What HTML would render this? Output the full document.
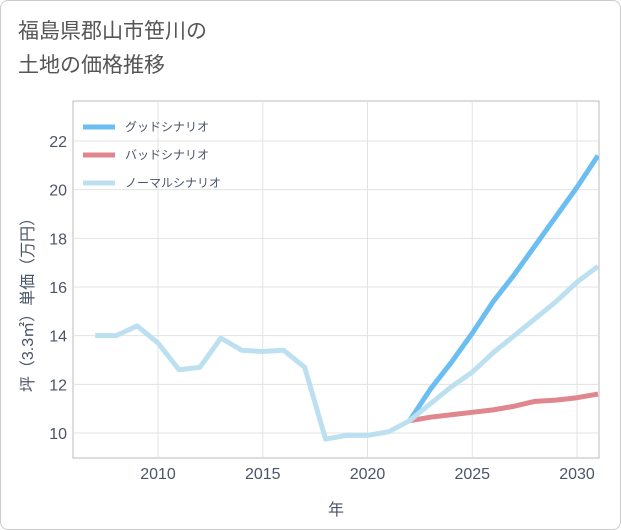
<!DOCTYPE html>
<html><head><meta charset="utf-8">
<style>
body{margin:0;background:#fff;}
#wrap{position:relative;width:619px;height:528px;border:1px solid #ccc;border-radius:8px;overflow:hidden;background:#fff;font-family:"Liberation Sans","Noto Sans CJK JP",sans-serif;}
#title{position:absolute;left:17px;top:14px;font-size:21px;line-height:34px;color:#555;}
svg{position:absolute;left:0;top:0;}
</style></head>
<body>
<div id="wrap">
<div id="title">福島県郡山市笹川の<br>土地の価格推移</div>
<svg id="chart" width="621" height="530"></svg>
</div>
<script>
const years=[2007,2008,2009,2010,2011,2012,2013,2014,2015,2016,2017,2018,2019,2020,2021,2022,2023,2024,2025,2026,2027,2028,2029,2030,2031];
const normal=[14.0,14.0,14.4,13.7,12.6,12.7,13.9,13.4,13.35,13.4,12.7,9.75,9.9,9.9,10.05,10.5,11.2,11.9,12.5,13.3,14.0,14.7,15.4,16.2,16.85];
const goodYears=[2022,2023,2024,2025,2026,2027,2028,2029,2030,2031];
const good=[10.5,11.8,12.9,14.1,15.4,16.5,17.7,18.9,20.1,21.4];
const bad=[10.5,10.65,10.75,10.85,10.95,11.1,11.3,11.35,11.45,11.6];
const xTicks=[2010,2015,2020,2025,2030];
const yTicks=[10,12,14,16,18,20,22];
const legendLabels=["グッドシナリオ","バッドシナリオ","ノーマルシナリオ"];

const NS="http://www.w3.org/2000/svg";
const svg=document.getElementById('chart');
const L=72,R=598,T=100,B=457;
const TXT='#4a5568';
const x=v=>157+(v-2010)*(576-157)/20;
const y=v=>432-(v-10)*(432-140)/12;
function el(t,a,p){const e=document.createElementNS(NS,t);for(const k in a)e.setAttribute(k,a[k]);(p||svg).appendChild(e);return e;}

const bg=el('rect',{x:L,y:T,width:R-L,height:B-T,fill:'#fff',stroke:'#bbb'});


xTicks.forEach(t=>{
  const g=el('line',{x1:x(t),x2:x(t),y1:T,y2:B,stroke:'#e3e3e3'});
  
  
  const tx=el('text',{x:x(t),y:478,'text-anchor':'middle','font-size':16,fill:TXT});
  tx.textContent=t;
  
  
});
yTicks.forEach(t=>{
  const g=el('line',{x1:L,x2:R,y1:y(t),y2:y(t),stroke:'#e3e3e3'});
  
  
  const tx=el('text',{x:66,y:y(t)+6,'text-anchor':'end','font-size':16,fill:TXT});
  tx.textContent=t;
  
  
});
const clip=el('clipPath',{id:'cp'});el('rect',{x:L,y:T,width:R-L,height:B-T},clip);
function line(xs,vs,color,name){
  const p=el('polyline',{points:xs.map((yr,i)=>x(yr)+','+y(vs[i])).join(' '),fill:'none',stroke:color,'stroke-width':5,'stroke-linejoin':'round','clip-path':'url(#cp)'});
  
  
}
line(goodYears,good,'#6bbef2','good-scenario-line');
line(goodYears,bad,'#e0868f','bad-scenario-line');
line(years,normal,'#bde0f0','normal-scenario-line');

const colors=['#6bbef2','#e0868f','#bde0f0'];
legendLabels.forEach((lb,i)=>{
  const yy=126+i*28;
  const g=el('g',{});
  
  
  el('line',{x1:82,x2:114,y1:yy,y2:yy,stroke:colors[i],'stroke-width':5},g);
  const t=el('text',{x:124,y:yy+4,'font-size':12,fill:TXT},g);t.textContent=lb;
});
const xl=el('text',{x:335,y:514,'text-anchor':'middle','font-size':16,fill:TXT});
xl.textContent='年';


const yl=el('text',{x:0,y:0,'text-anchor':'middle','font-size':16,fill:TXT,transform:'translate(32,300) rotate(-90)'});
yl.textContent='坪（3.3㎡）単価（万円）';


</script>
</body></html>
